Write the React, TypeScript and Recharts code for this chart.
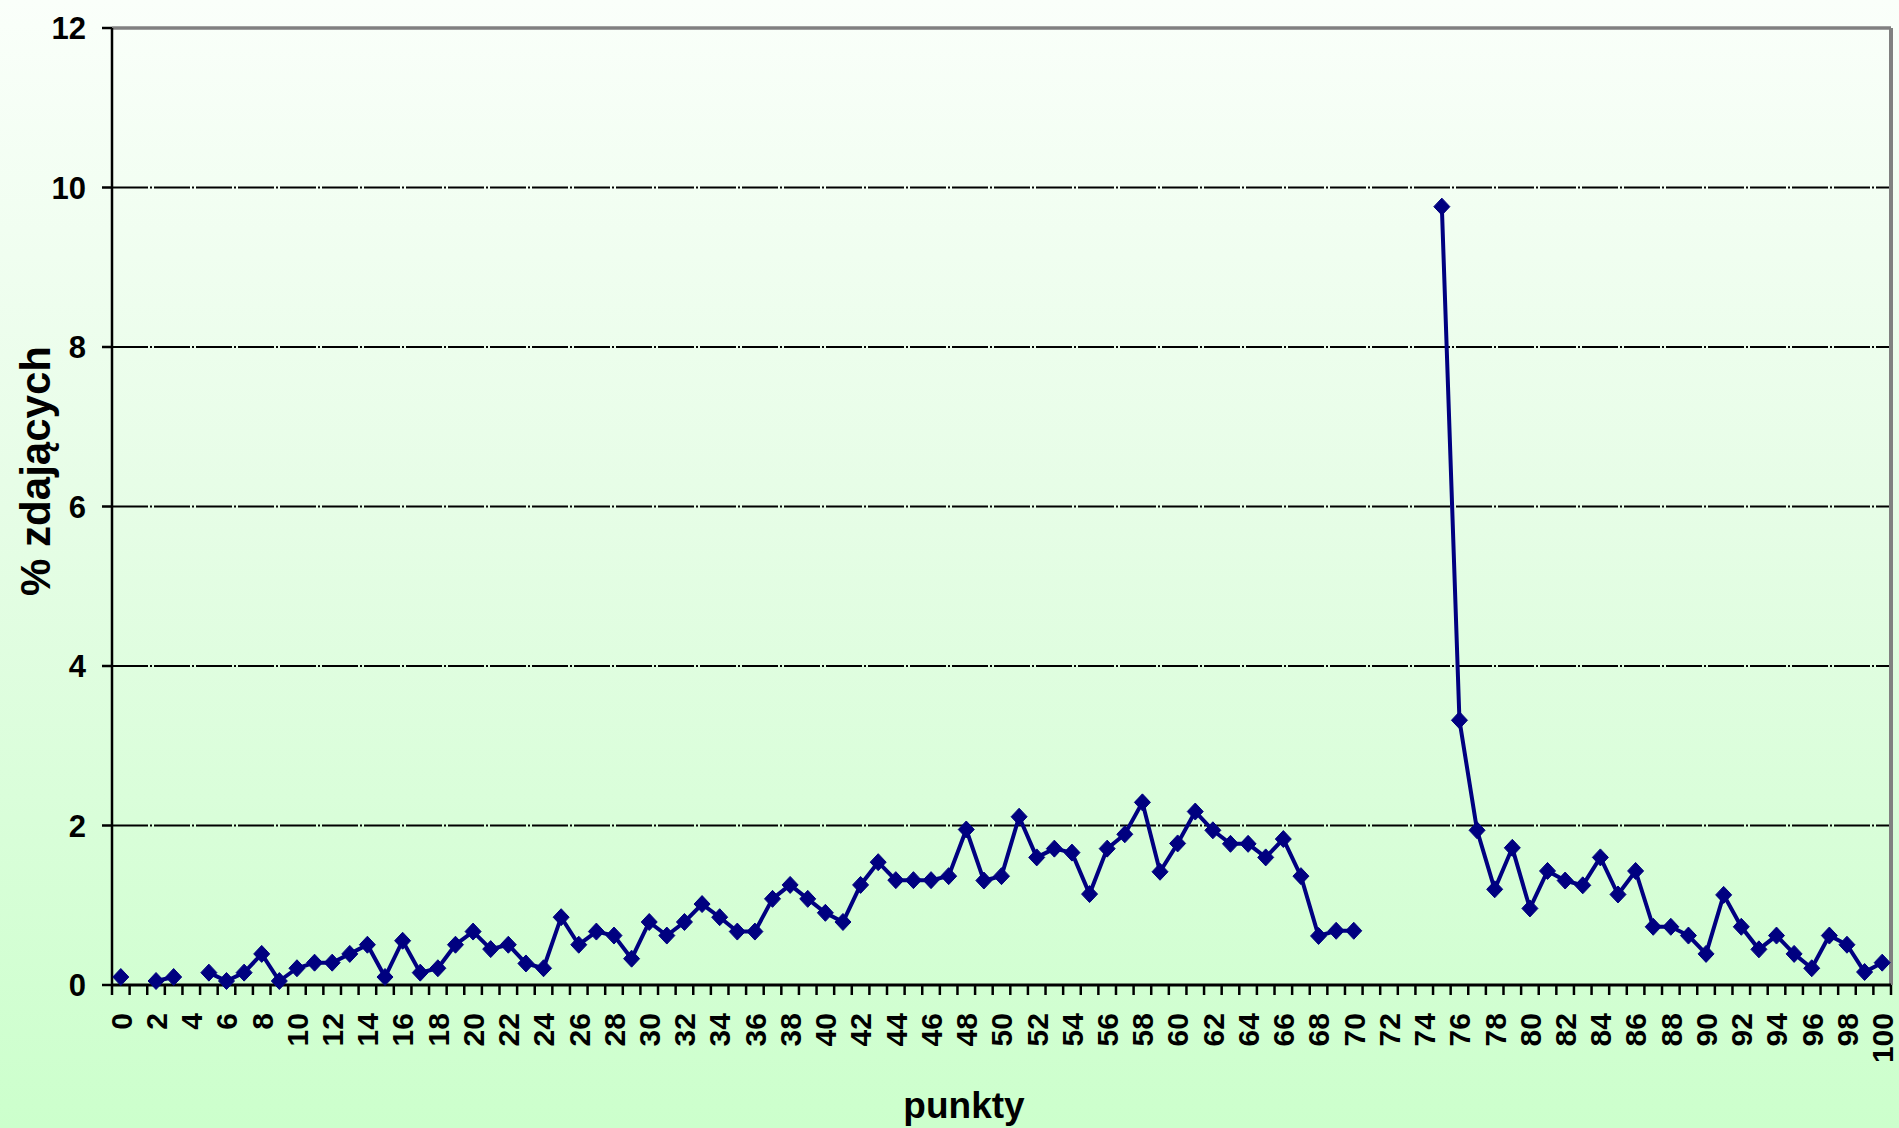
import React from 'react';
import { LineChart, Line, XAxis, YAxis, CartesianGrid, ReferenceLine, Label } from 'recharts';

// % of test takers per score (punkty); null = no value for that score
const values: (number | null)[] = [
  0.1, null, 0.05, 0.1, null, 0.155, 0.05, 0.155, 0.39, 0.05,
  0.21, 0.28, 0.28, 0.39, 0.505, 0.1, 0.555, 0.155, 0.21, 0.505,
  0.67, 0.45, 0.505, 0.27, 0.21, 0.85, 0.505, 0.67, 0.62, 0.33,
  0.79, 0.62, 0.79, 1.015, 0.85, 0.67, 0.67, 1.08, 1.255, 1.08,
  0.905, 0.79, 1.255, 1.54, 1.315, 1.315, 1.315, 1.365, 1.95, 1.31,
  1.365, 2.11, 1.6, 1.71, 1.66, 1.14, 1.71, 1.89, 2.29, 1.42,
  1.775, 2.175, 1.94, 1.77, 1.77, 1.6, 1.83, 1.365, 0.615, 0.68,
  0.68, null, null, null, null, 9.76, 3.32, 1.94, 1.2, 1.72,
  0.96, 1.43, 1.31, 1.25, 1.6, 1.135, 1.43, 0.73, 0.73, 0.62,
  0.39, 1.13, 0.73, 0.447, 0.62, 0.39, 0.21, 0.62, 0.505, 0.163,
  0.28,
];

const categories: number[] = values.map((_, i) => i);

const xTickLabels: number[] = [
  0, 2, 4, 6, 8, 10, 12, 14, 16, 18, 20, 22, 24, 26, 28, 30, 32, 34, 36, 38, 40,
  42, 44, 46, 48, 50, 52, 54, 56, 58, 60, 62, 64, 66, 68, 70, 72, 74, 76, 78, 80,
  82, 84, 86, 88, 90, 92, 94, 96, 98, 100,
];

const yTicks: number[] = [0, 2, 4, 6, 8, 10, 12];

const xTitle = 'punkty';
const yTitle = '% zdających';

const data = categories.map((c, i) => ({ x: c, value: values[i] }));
const xDomain: [number, number] = [categories[0] - 0.5, categories[categories.length - 1] + 0.5];
const yDomain: [number, number] = [0, 12];

const FONT = '"Liberation Sans", Arial, sans-serif';
const NAVY = '#000080';
const X_TICK_MARGIN = 28;

const Diamond = (props: any) => {
  const { cx, cy, value, index } = props;
  if (value == null || cx == null || cy == null || isNaN(cy)) return <g key={`d-${index}`} />;
  const rx = 8;
  const ry = 8.5;
  return (
    <path
      key={`d-${index}`}
      d={`M${cx},${cy - ry}L${cx + rx},${cy}L${cx},${cy + ry}L${cx - rx},${cy}Z`}
      fill={NAVY}
      stroke={NAVY}
      strokeWidth={1}
    />
  );
};

// Label every 2nd category; tick marks on the category boundaries either side
const XTick = (props: any) => {
  const { x, y, payload, width } = props;
  const span = xDomain[1] - xDomain[0];
  const w = (typeof width === 'number' && width > 0 ? width : 1779) / span;
  const axisY = y - X_TICK_MARGIN;
  return (
    <g>
      <line x1={x - w / 2} x2={x - w / 2} y1={axisY} y2={axisY + 10} stroke="#000" strokeWidth={2.5} />
      <line x1={x + w / 2} x2={x + w / 2} y1={axisY} y2={axisY + 10} stroke="#000" strokeWidth={2.5} />
      <g transform={`translate(${x},${y}) rotate(-90)`}>
        <text
          x={0}
          y={0}
          textAnchor="end"
          dy="0.36em"
          fontSize={30}
          fontWeight="bold"
          fill="#000"
          fontFamily={FONT}
        >
          {payload.value}
        </text>
      </g>
    </g>
  );
};

const XTitle = () => (
  <text x={964} y={1118} textAnchor="middle" fontSize={37} fontWeight="bold" fill="#000" fontFamily={FONT}>
    {xTitle}
  </text>
);

const YTitle = () => (
  <text
    transform="translate(50,471) rotate(-90)"
    textAnchor="middle"
    fontSize={42}
    fontWeight="bold"
    fill="#000"
    fontFamily={FONT}
  >
    {yTitle}
  </text>
);

export default function App() {
  return (
    <div
      style={{
        position: 'absolute',
        left: 0,
        top: 0,
        width: 1899,
        height: 1128,
        background: 'linear-gradient(to bottom, #fafffa 0%, #e6fde6 45%, #ccffcc 100%)',
      }}
    >
      <LineChart
        width={1899}
        height={1128}
        data={data}
        margin={{ top: 28, right: 8, bottom: 0, left: 0 }}
      >
        <CartesianGrid
          vertical={false}
          horizontal
          stroke="#000"
          strokeWidth={2}
          strokeDasharray="36 2 2 2"
        />
        <XAxis
          dataKey="x"
          type="number"
          domain={xDomain}
          ticks={xTickLabels}
          interval={0}
          minTickGap={0}
          allowDataOverflow
          height={143}
          tickSize={0}
          tickMargin={X_TICK_MARGIN}
          tickLine={false}
          axisLine={{ stroke: '#000', strokeWidth: 3 }}
          tick={<XTick />}
        >
          <Label content={<XTitle />} />
        </XAxis>
        <YAxis
          type="number"
          domain={yDomain}
          ticks={yTicks}
          interval={0}
          width={112}
          tickSize={10}
          tickMargin={16}
          tickLine={{ stroke: '#000', strokeWidth: 2.5 }}
          axisLine={{ stroke: '#000', strokeWidth: 2.5 }}
          tick={{ fontSize: 31, fontWeight: 'bold', fill: '#000', fontFamily: FONT }}
        >
          <Label content={<YTitle />} />
        </YAxis>
        <ReferenceLine y={12} stroke="#808080" strokeWidth={3.5} />
        <ReferenceLine x={xDomain[1]} stroke="#808080" strokeWidth={4} />
        <Line
          dataKey="value"
          stroke={NAVY}
          strokeWidth={4}
          dot={(p: any) => <Diamond {...p} />}
          activeDot={false}
          connectNulls={false}
          isAnimationActive={false}
        />
      </LineChart>
    </div>
  );
}
